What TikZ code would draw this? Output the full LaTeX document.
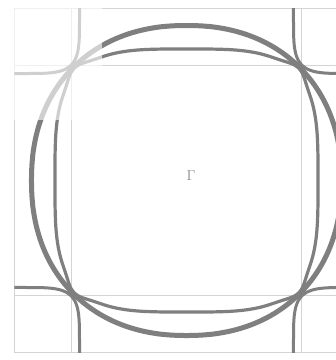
\documentclass[tikz,border=0pt]{standalone}
\definecolor{band}{HTML}{7F7F7F}
\definecolor{gridc}{HTML}{D4D4D4}
\definecolor{labelc}{HTML}{8C8C8C}
\tikzset{
  gridline/.style={draw=gridc, line width=1.2pt},
  bandA/.style={draw=band, line width=5pt},
  bandB/.style={draw=band, line width=3.2pt},
  pocket/.style={draw=band, line width=3pt},
}
\begin{document}
\begin{tikzpicture}[x=1pt,y=-1pt,
  declare function={
    sex(\ang,\ex)=sign(cos(\ang))*abs(cos(\ang))^(2/\ex);
    sey(\ang,\ex)=sign(sin(\ang))*abs(sin(\ang))^(2/\ex);
    bump(\ang,\amt,\k)=1+\amt*abs(sin(2*\ang))^\k;
  }]
\useasboundingbox (0,0) rectangle (336,360);
\fill[white] (0,0) rectangle (336,360);
% grid
\foreach \gx in {14.5,71.5,301.5,358.5} \draw[gridline] (\gx,8.5) -- (\gx,352.5);
\foreach \gy in {8.5,65.5,295.5,352.5} \draw[gridline] (14.5,\gy) -- (358.5,\gy);
\begin{scope}
\clip (14.5,8.5) rectangle (358.5,352.5);
% large bands around Gamma
\draw[bandA] plot[domain=0.5:359.5, samples=360, variable=\ang]
  ({186.5+155*sex(\ang,2.2)}, {180.5+155*sey(\ang,2.2)}) -- cycle;
\draw[bandB] plot[domain=0.5:359.5, samples=360, variable=\ang]
  ({186.5+131.5*sex(\ang,3.6)*bump(\ang,0.035,16)}, {180.5+131.5*sey(\ang,3.6)*bump(\ang,0.035,16)}) -- cycle;
% corner pockets
\foreach \mx/\my in {14.5/8.5, 358.5/8.5, 14.5/352.5, 358.5/352.5}
  \draw[pocket] plot[domain=0.5:359.5, samples=360, variable=\ang]
  ({\mx+65*sex(\ang,5)}, {\my+65*sey(\ang,5)}) -- cycle;
\end{scope}
% faded corner
\fill[white, opacity=0.63] (0,0) rectangle (102,120);
\node[text=labelc, font=\fontsize{15}{15}\selectfont] (gamma) at (191,176) {$\Gamma$};
\end{tikzpicture}
\end{document}
